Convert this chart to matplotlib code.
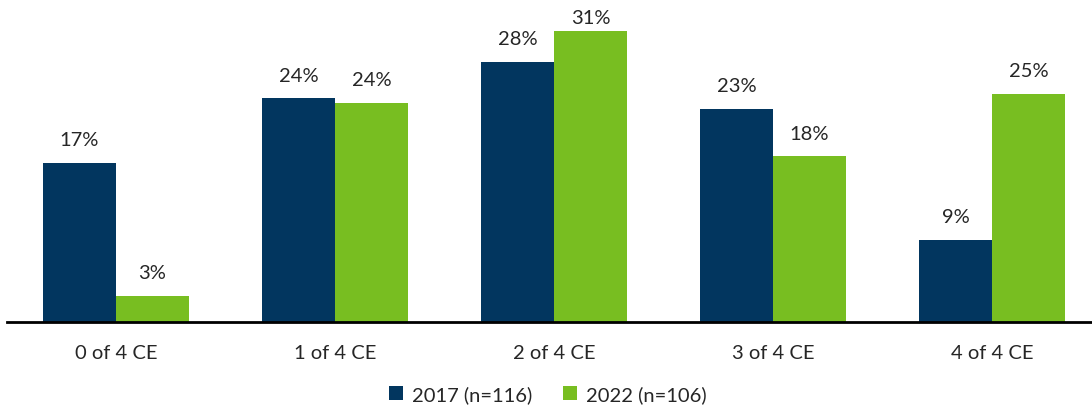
import numpy as np
import matplotlib.pyplot as plt

# Anteil je Kategorie (in %)
categories = ["0 of 4 CE", "1 of 4 CE", "2 of 4 CE", "3 of 4 CE", "4 of 4 CE"]
vals_2017 = [17.0, 23.9, 27.8, 22.8, 8.8]
vals_2022 = [2.8, 23.4, 31.1, 17.7, 24.4]
labels_2017 = ["17%", "24%", "28%", "23%", "9%"]
labels_2022 = ["3%", "24%", "31%", "18%", "25%"]
series_names = ["2017 (n=116)", "2022 (n=106)"]

navy = "#02365F"
green = "#78BE21"

plt.rcParams['font.family'] = ['Lato', 'DejaVu Sans']

fig = plt.figure(figsize=(10.92, 4.06), dpi=100)
ax = fig.add_axes([6.5 / 1092, 1 - 323 / 406, 1095 / 1092, 320 / 406])

x = np.arange(len(categories))
w = 1 / 3
b1 = ax.bar(x - w / 2, vals_2017, w, color=navy, label=series_names[0])
b2 = ax.bar(x + w / 2, vals_2022, w, color=green, label=series_names[1])

fs = 14.5
# Beschriftung oben darf nicht aus dem Bild laufen
for bars, labs in [(b1, labels_2017), (b2, labels_2022)]:
    for rect, lab in zip(bars, labs):
        y = min(rect.get_height() + 1.9, 32.0)
        ax.text(rect.get_x() + rect.get_width() / 2, y, lab,
                ha='center', va='baseline', fontsize=fs, color='#262626')

ax.set_xlim(-0.5, 4.5)
ax.set_ylim(0, 34.2)
ax.set_xticks(x)
ax.set_xticklabels(categories, fontsize=fs, color='#262626')
ax.tick_params(axis='x', length=0, pad=16)
ax.set_yticks([])
for s in ['top', 'right', 'left']:
    ax.spines[s].set_visible(False)
ax.spines['bottom'].set_linewidth(2)
ax.spines['bottom'].set_color('black')

fig.legend(handles=[b1, b2], loc='center', bbox_to_anchor=(548 / 1092, 1 - 395 / 406),
           ncol=2, frameon=False, fontsize=fs, handlelength=0.7, handleheight=0.7,
           handletextpad=0.45, columnspacing=1.5, labelcolor='#262626')

fig.savefig("out.png", dpi=100)
